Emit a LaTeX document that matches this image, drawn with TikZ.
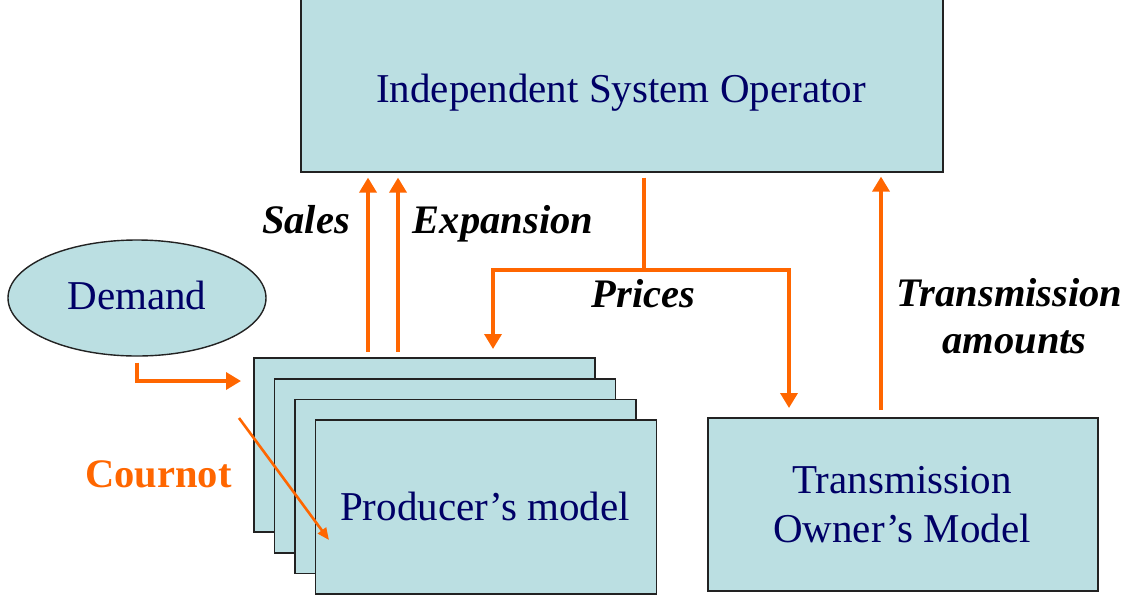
\documentclass[tikz,border=0pt]{standalone}
\usepackage{fontspec}
\setmainfont{Liberation Serif}
\usetikzlibrary{shapes.geometric,arrows.meta}
\definecolor{boxfill}{RGB}{187,223,226}
\definecolor{navy}{RGB}{0,0,102}
\definecolor{orng}{RGB}{255,102,0}
\definecolor{edge}{RGB}{34,34,34}
\tikzset{
  box/.style={draw=edge, line width=1.6pt, fill=boxfill, rectangle, inner sep=0pt, anchor=north west},
  txt/.style={anchor=base, inner sep=0pt, text=navy, font=\fontsize{41}{49}\selectfont},
  lbl/.style={anchor=base, inner sep=0pt, text=black, font=\fontsize{40.5}{49}\selectfont\bfseries\itshape},
  oline/.style={draw=orng, line width=3.5pt},
  arr/.style={oline, -{Triangle[width=17pt,length=15pt]}},
  thinarr/.style={draw=orng, line width=2.6pt, -{Triangle[width=10pt,length=12pt]}}
}
\begin{document}
\begin{tikzpicture}[x=1pt,y=-1pt]
\useasboundingbox (0,0) rectangle (1135,598);
\clip (0,0) rectangle (1135,598);
% ISO box
\node[box, minimum width=642pt, minimum height=201pt] (iso) at (300,-30) {};
\node[txt] (isot) at (621,102) {Independent System Operator};
% Demand
\node[ellipse, draw=edge, line width=1.4pt, fill=boxfill, minimum width=258pt, minimum height=116pt, inner sep=0pt] (dem) at (137,298) {};
\node[txt] (demt) at (137,309) {Demand};
% Producer boxes
\node[box, minimum width=341pt, minimum height=174pt] (p1) at (253,357) {};
\node[box, minimum width=341pt, minimum height=174pt] (p2) at (273.5,378) {};
\node[box, minimum width=341pt, minimum height=174pt] (p3) at (294,398.5) {};
\node[box, minimum width=341pt, minimum height=174pt] (p4) at (314.5,419) {};
\node[txt] (p4t) at (485,520) {Producer’s model};
% Transmission owner
\node[box, minimum width=390pt, minimum height=173pt] (tom) at (707,417) {};
\node[txt] (tomt1) at (902,493) {Transmission};
\node[txt] (tomt2) at (902,542) {Owner’s Model};
% labels
\node[lbl] (sales) at (306,233) {Sales};
\node[lbl] (exp) at (503,233) {Expansion};
\node[lbl] (prices) at (643.5,307) {Prices};
\node[lbl] (tam1) at (1009.5,306) {Transmission};
\node[lbl] (tam2) at (1014.5,353) {amounts};
\node[anchor=base, inner sep=0pt, text=orng, font=\fontsize{40.5}{49}\selectfont\bfseries] (cour) at (158.5,487) {Cournot};
% coordinates
\coordinate (sx) at (368,0);
\coordinate (ex) at (398,0);
\coordinate (pj) at (644,270);
\coordinate (pl) at (493,270);
\coordinate (pr) at (789,270);
\coordinate (tx) at (881,0);
\coordinate (dy) at (0,381);
\coordinate (c1) at (239,418);
\coordinate (c2) at (329,540);
% Sales / Expansion
\draw[arr, shorten <=5pt, shorten >=5pt] (sx |- p1.north) -- (sx |- iso.south);
\draw[arr, shorten <=5pt, shorten >=5pt] (ex |- p1.north) -- (ex |- iso.south);
% Prices
\draw[oline, shorten <=5pt] (pj |- iso.south) -- (pj);
\draw[oline, line cap=rect] (pl) -- (pr);
\draw[arr, shorten >=8pt] (pl) -- (pl |- p1.north);
\draw[arr, shorten >=9pt] (pr) -- (pr |- tom.north);
% Transmission amounts
\draw[arr, shorten <=7pt, shorten >=4pt] (tx |- tom.north) -- (tx |- iso.south);
% Demand
\draw[arr, shorten <=6pt, shorten >=12pt] (dem.south) |- (p1.west |- dy);
% Cournot
\draw[thinarr] (c1) -- (c2);
\end{tikzpicture}
\end{document}
